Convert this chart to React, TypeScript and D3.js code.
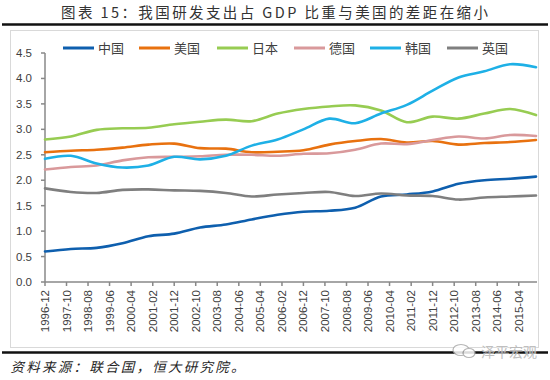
import React from "react";
import * as d3 from "d3";

const years = [1996, 1997, 1998, 1999, 2000, 2001, 2002, 2003, 2004, 2005, 2006, 2007, 2008, 2009, 2010, 2011, 2012, 2013, 2014, 2015];

const china = [0.60, 0.65, 0.67, 0.76, 0.90, 0.95, 1.07, 1.13, 1.23, 1.32, 1.38, 1.40, 1.46, 1.68, 1.72, 1.78, 1.93, 2.00, 2.03, 2.07];
const usa = [2.55, 2.58, 2.60, 2.64, 2.70, 2.72, 2.63, 2.62, 2.55, 2.56, 2.59, 2.70, 2.77, 2.81, 2.74, 2.77, 2.70, 2.73, 2.75, 2.79];
const japan = [2.80, 2.86, 2.99, 3.02, 3.03, 3.10, 3.15, 3.19, 3.16, 3.31, 3.40, 3.45, 3.47, 3.37, 3.14, 3.25, 3.21, 3.31, 3.40, 3.28];
const germany = [2.21, 2.26, 2.29, 2.39, 2.45, 2.46, 2.47, 2.50, 2.50, 2.48, 2.52, 2.53, 2.60, 2.72, 2.71, 2.79, 2.86, 2.82, 2.89, 2.87];
const korea = [2.42, 2.48, 2.33, 2.25, 2.29, 2.46, 2.41, 2.48, 2.68, 2.80, 3.00, 3.21, 3.12, 3.31, 3.48, 3.76, 4.02, 4.14, 4.28, 4.22];
const uk = [1.84, 1.77, 1.75, 1.81, 1.82, 1.80, 1.79, 1.75, 1.68, 1.72, 1.75, 1.77, 1.69, 1.74, 1.70, 1.69, 1.62, 1.66, 1.68, 1.70];

const seriesNames = ["中国", "美国", "日本", "德国", "韩国", "英国"];
const seriesValues = [china, usa, japan, germany, korea, uk];
const seriesColors = ["#0E5FAE", "#E8710F", "#97CC52", "#D9999B", "#1EB0E6", "#7F7F7F"];

const xTickLabels = ["1996-12", "1997-10", "1998-08", "1999-06", "2000-04", "2001-02", "2001-12", "2002-10", "2003-08", "2004-06", "2005-04", "2006-02", "2006-12", "2007-10", "2008-08", "2009-06", "2010-04", "2011-02", "2011-12", "2012-10", "2013-08", "2014-06", "2015-04"];
const yTicks = [0, 0.5, 1.0, 1.5, 2.0, 2.5, 3.0, 3.5, 4.0, 4.5];

const titleText = "图表 15：我国研发支出占 GDP 比重与美国的差距在缩小";
const sourceText = "资料来源：联合国，恒大研究院。";
const watermarkText = "泽平宏观";

const parseYM = d3.timeParse("%Y-%m");

export default function App() {
  const W = 550, H = 380;
  const x = d3.scaleTime()
    .domain([new Date(1996, 11, 1), new Date(2015, 11, 1)])
    .range([45, 536]);
  const y = d3.scaleLinear().domain([0, 4.5]).range([282, 53]);
  const line = d3.line<number>()
    .x((_, i) => x(new Date(years[i], 11, 1)))
    .y((v) => y(v))
    .curve(d3.curveCatmullRom.alpha(0.5));

  const axisColor = "#888888";
  const labelFont = "'Liberation Sans', Arial, sans-serif";
  const cjkFont = "'Noto Sans CJK SC', sans-serif";

  const legendX = [63, 139, 217, 294, 370, 447];

  return (
    <svg width={W} height={H} style={{ position: "absolute", left: 0, top: 0, display: "block", background: "#fff" }}>
      <rect x={0} y={0} width={W} height={H} fill="#fff" />
      {/* title */}
      <text x={61} y={18} fontFamily={cjkFont} fontSize={14.5} fill="#333" textLength={427} lengthAdjust="spacing">{titleText}</text>
      <line x1={2} x2={548} y1={24.5} y2={24.5} stroke="#111" strokeWidth={2.6} />
      {/* chart box */}
      <rect x={10.5} y={30.5} width={528} height={317} fill="#fff" stroke="#D9D9D9" strokeWidth={1} />
      {/* legend */}
      {seriesNames.map((n, i) => (
        <g key={n}>
          <line x1={legendX[i]} x2={legendX[i] + 31} y1={48} y2={48} stroke={seriesColors[i]} strokeWidth={3} />
          <text x={legendX[i] + 35} y={52.5} fontFamily={cjkFont} fontSize={13} fill="#404040">{n}</text>
        </g>
      ))}
      {/* y axis */}
      <line x1={45} x2={45} y1={y(4.5)} y2={y(0)} stroke={axisColor} strokeWidth={1.5} />
      {yTicks.map((t) => (
        <g key={t}>
          <line x1={41} x2={45} y1={y(t)} y2={y(t)} stroke={axisColor} strokeWidth={1.5} />
          <text x={32} y={y(t)} dy="0.35em" textAnchor="end" fontFamily={labelFont} fontSize={11.5} fill="#404040">{d3.format(".1f")(t)}</text>
        </g>
      ))}
      {/* lines */}
      {seriesValues.map((vals, i) => (
        <path key={seriesNames[i]} d={line(vals) || ""} fill="none" stroke={seriesColors[i]} strokeWidth={2.6} strokeLinejoin="round" strokeLinecap="round" />
      ))}
      {/* x axis */}
      <line x1={45} x2={537} y1={282} y2={282} stroke={axisColor} strokeWidth={1.5} />
      {xTickLabels.map((lab) => {
        const xx = x(parseYM(lab) as Date);
        return (
          <g key={lab}>
            <line x1={xx} x2={xx} y1={282} y2={286} stroke={axisColor} strokeWidth={1.5} />
            <text transform={`translate(${xx},${290}) rotate(-90)`} dy="0.35em" textAnchor="end" fontFamily={labelFont} fontSize={11.5} fill="#404040">{lab}</text>
          </g>
        );
      })}
      {/* bottom rule and source */}
      <line x1={2} x2={548} y1={352.5} y2={352.5} stroke="#111" strokeWidth={2.6} />
      <text x={10.5} y={372} fontFamily={cjkFont} fontSize={13.5} fontStyle="italic" fill="#262626" textLength={234} lengthAdjust="spacing">{sourceText}</text>
      {/* watermark */}
      <g opacity={0.85}>
        <ellipse cx={461} cy={350} rx={8} ry={5.5} fill="#fff" stroke="#aaa" strokeWidth={1.2} />
        <ellipse cx={469} cy={353} rx={6} ry={4.5} fill="#fff" stroke="#aaa" strokeWidth={1.2} />
        <text x={481} y={357} fontFamily={cjkFont} fontSize={14} fill="#b5b5b5" stroke="#fff" strokeWidth={0.6} paintOrder="stroke">{watermarkText}</text>
      </g>
    </svg>
  );
}
